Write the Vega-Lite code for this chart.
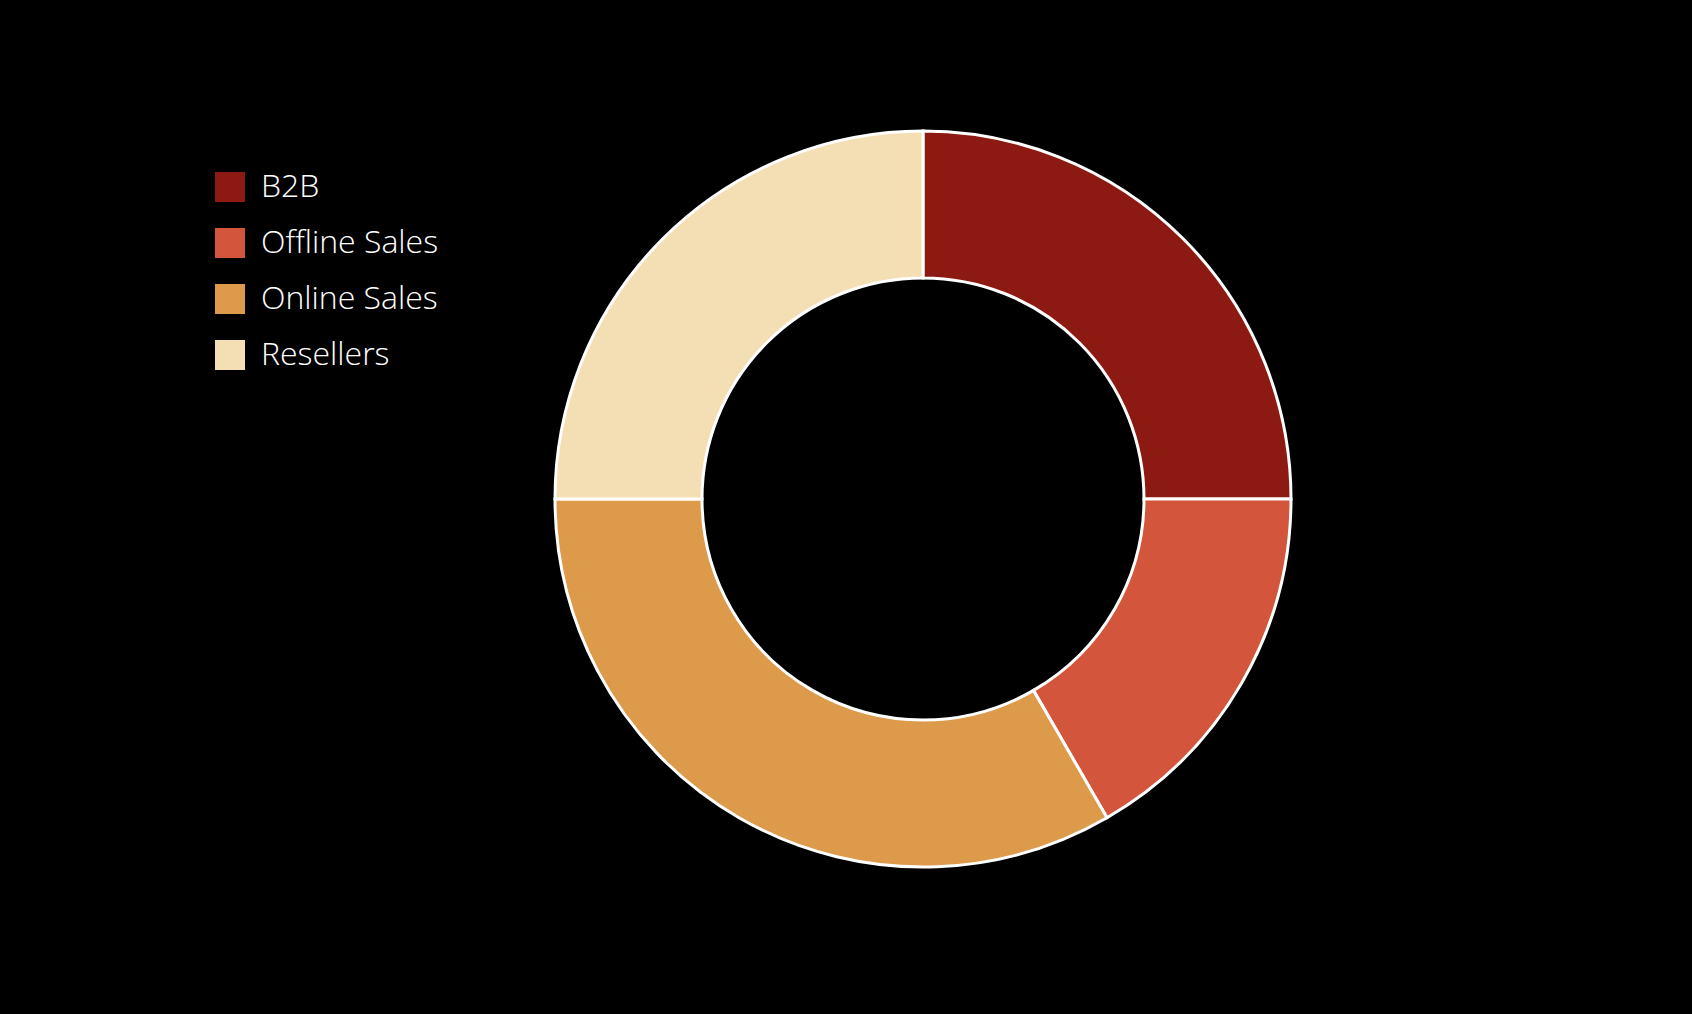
{
  "$schema": "https://vega.github.io/schema/vega-lite/v6.json",
  "description": "Donut chart of sales share by channel.",
  "width": 1538,
  "height": 998,
  "autosize": "none",
  "padding": {"left": 154, "top": 0, "right": 0, "bottom": 16},
  "background": "#000000",
  "data": {
    "values": [
      {"channel": "B2B", "share": 3},
      {"channel": "Offline Sales", "share": 2},
      {"channel": "Online Sales", "share": 4},
      {"channel": "Resellers", "share": 3}
    ]
  },
  "mark": {
    "type": "arc",
    "outerRadius": 368,
    "innerRadius": 221,
    "stroke": "#ffffff",
    "strokeWidth": 3
  },
  "encoding": {
    "theta": {"field": "share", "type": "quantitative", "stack": true},
    "color": {
      "field": "channel",
      "type": "nominal",
      "scale": {
        "domain": ["B2B", "Offline Sales", "Online Sales", "Resellers"],
        "range": ["#8C1A12", "#D3553B", "#DC9A4A", "#F4DEB4"]
      },
      "legend": {
        "title": null,
        "orient": "none",
        "legendX": 60,
        "legendY": 171,
        "symbolType": "square",
        "symbolSize": 900,
        "symbolStrokeWidth": 0,
        "labelFont": "Open Sans",
        "labelFontWeight": 300,
        "labelFontSize": 32,
        "labelColor": "#ffffff",
        "labelLimit": 0,
        "labelOffset": 15,
        "rowPadding": 24
      }
    }
  },
  "config": {"view": {"stroke": null}}
}
